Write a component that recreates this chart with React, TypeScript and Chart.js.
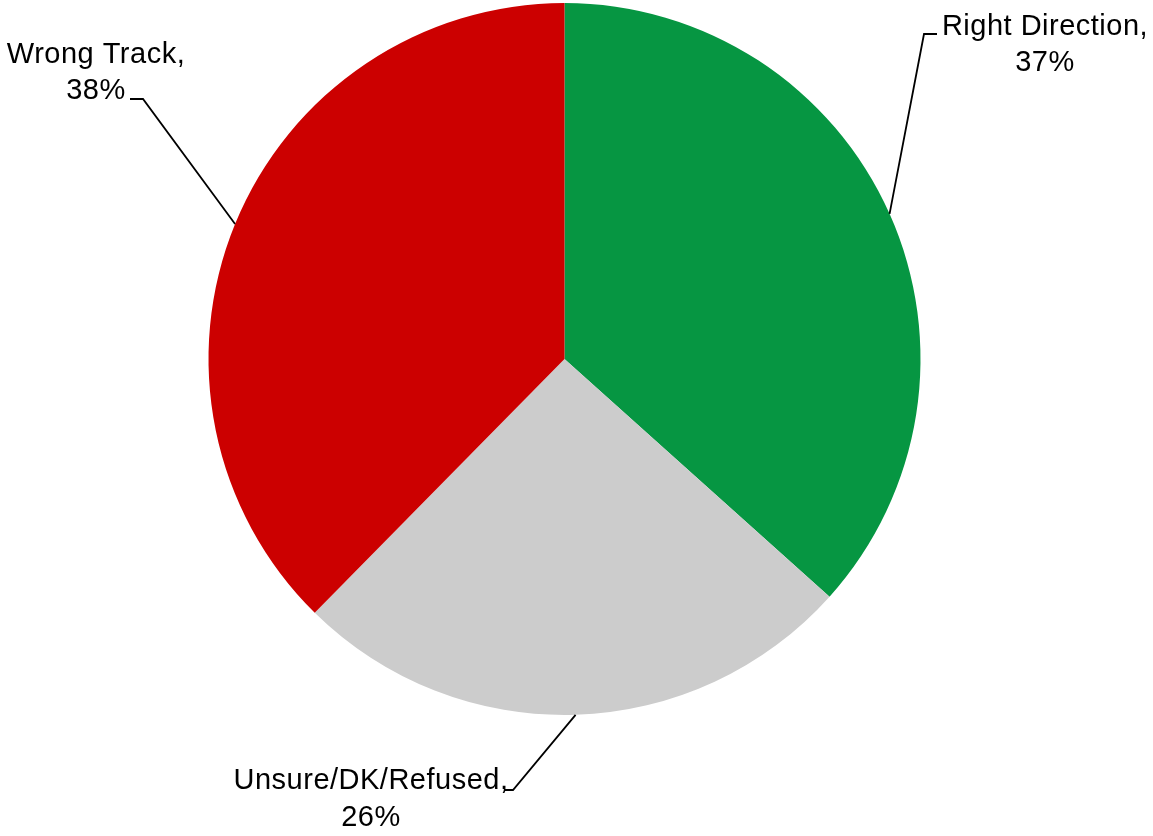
import React, { useEffect, useRef } from "react";
import { Chart, registerables } from "chart.js";

Chart.register(...registerables);

const categories = ["Right Direction", "Unsure/DK/Refused", "Wrong Track"];
const values = [37, 26, 38];
const colors = ["#069642", "#CCCCCC", "#CC0000"];

// annotation layout for callout labels (canvas px)
const LABEL_LAYOUT = [
  { elbow: [924, 34], end: [937, 34], textX: 1045, baselines: [35, 71] },
  { elbow: [513, 790], end: [505, 790], textX: 371, baselines: [789, 826] },
  { elbow: [143, 99], end: [130, 99], textX: 96, baselines: [63, 99] },
];

const calloutPlugin = {
  id: "callouts",
  afterDraw(chart: any) {
    const ctx = chart.ctx;
    const meta = chart.getDatasetMeta(0);
    ctx.save();
    meta.data.forEach((arc: any, i: number) => {
      const p = arc.getProps(["x", "y", "startAngle", "endAngle", "outerRadius"], true);
      const a = (p.startAngle + p.endAngle) / 2;
      const sx = p.x + Math.cos(a) * p.outerRadius;
      const sy = p.y + Math.sin(a) * p.outerRadius;
      const L = LABEL_LAYOUT[i];
      ctx.strokeStyle = "#000000";
      ctx.lineWidth = 1.8;
      ctx.beginPath();
      ctx.moveTo(sx, sy);
      ctx.lineTo(L.elbow[0], L.elbow[1]);
      ctx.lineTo(L.end[0], L.end[1]);
      ctx.stroke();
      ctx.fillStyle = "#000000";
      ctx.font = '29px "Liberation Sans", Arial, sans-serif';
      try { (ctx as any).letterSpacing = "0.5px"; } catch (e) {}
      ctx.textAlign = "center";
      ctx.textBaseline = "alphabetic";
      ctx.fillText(categories[i] + ",", L.textX, L.baselines[0]);
      ctx.fillText(values[i] + "%", L.textX, L.baselines[1]);
    });
    ctx.restore();
  },
};

export default function App() {
  const ref = useRef<HTMLCanvasElement | null>(null);
  useEffect(() => {
    if (!ref.current) return;
    const chart = new Chart(ref.current, {
      type: "pie",
      data: {
        labels: categories,
        datasets: [
          {
            data: values,
            backgroundColor: colors,
            borderWidth: 0,
          },
        ],
      },
      options: {
        responsive: false,
        animation: false,
        layout: { padding: { left: 208.5, right: 232.5, top: 3, bottom: 121 } },
        plugins: {
          legend: { display: false },
          tooltip: { enabled: false },
        },
      },
      plugins: [calloutPlugin],
    });
    return () => chart.destroy();
  }, []);
  return (
    <div style={{ position: "fixed", left: 0, top: 0, width: 1153, height: 836, background: "#ffffff" }}>
      <canvas ref={ref} width={1153} height={836} style={{ width: 1153, height: 836, display: "block" }} />
    </div>
  );
}
